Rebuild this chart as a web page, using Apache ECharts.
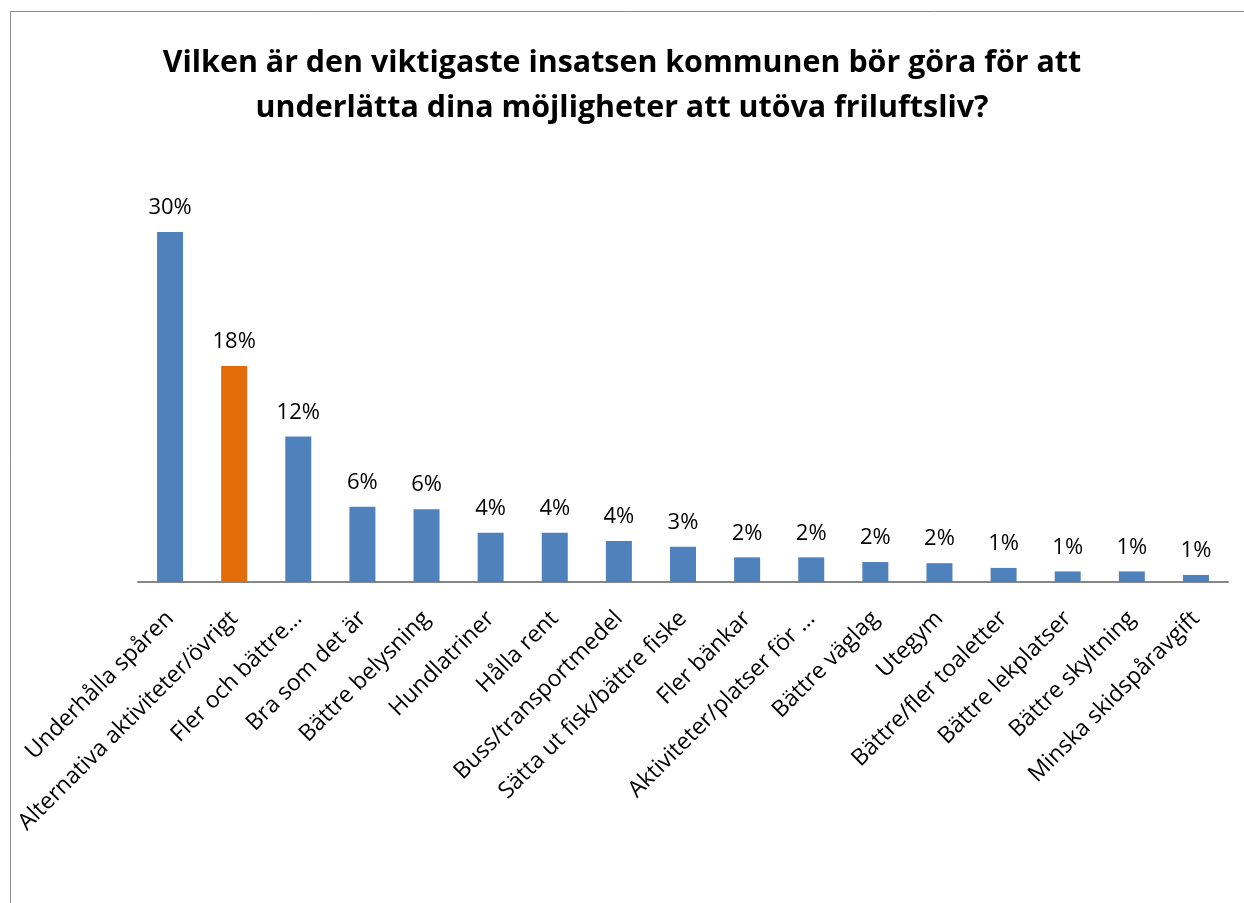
<!DOCTYPE html>
<html>
<head>
<meta charset="utf-8">
<script src="https://cdn.jsdelivr.net/npm/echarts@6/dist/echarts.min.js"></script>
<style>
  html, body { margin: 0; padding: 0; background: #fff; }
  #chart { width: 1244px; height: 903px; }
</style>
</head>
<body>
<div id="chart"></div>
<script>
// kategorier och andelar (%)
const categories = [
  'Underhålla spåren', 'Alternativa aktiviteter/övrigt', 'Fler och bättre…',
  'Bra som det är', 'Bättre belysning', 'Hundlatriner', 'Hålla rent',
  'Buss/transportmedel', 'Sätta ut fisk/bättre fiske', 'Fler bänkar',
  'Aktiviteter/platser för …', 'Bättre väglag', 'Utegym', 'Bättre/fler toaletter',
  'Bättre lekplatser', 'Bättre skyltning', 'Minska skidspåravgift'
]
const values = [29.8, 18.4, 12.4, 6.4, 6.2, 4.2, 4.2, 3.5, 3.0, 2.1, 2.1, 1.7, 1.6, 1.2, 0.9, 0.9, 0.6]
const highlighted = ['Alternativa aktiviteter/övrigt']
const titleLines = [
  'Vilken är den viktigaste insatsen kommunen bör göra för att',
  'underlätta dina möjligheter att utöva friluftsliv?'
]

const chart = echarts.init(document.getElementById('chart'))

const option = {
  backgroundColor: '#fff',
  animation: false,
  title: {
    text: titleLines.join('\n'),
    left: 'center',
    top: 36,
    textStyle: {
      fontFamily: 'Open Sans',
      fontWeight: 'bold',
      fontSize: 30.4,
      lineHeight: 45,
      color: '#000'
    }
  },
  graphic: [{
    type: 'polyline',
    shape: { points: [[10.5, 903], [10.5, 11.5], [1244, 11.5]] },
    style: { stroke: '#8c8c8c', lineWidth: 1, fill: null }
  }],
  grid: { left: 138, right: 16, top: 171, bottom: 321 },
  xAxis: {
    type: 'category',
    data: categories,
    axisLine: { lineStyle: { color: '#868686', width: 2 } },
    axisTick: { show: false },
    axisLabel: {
      interval: 0,
      rotate: 45,
      margin: 33,
      color: '#000',
      fontFamily: 'Open Sans',
      fontSize: 23
    }
  },
  yAxis: {
    type: 'value',
    min: 0,
    max: 35,
    show: false,
    splitLine: { show: false }
  },
  series: [{
    type: 'bar',
    barWidth: 26,
    data: values.map((v, i) => ({
      value: v,
      itemStyle: { color: highlighted.includes(categories[i]) ? '#E36C09' : '#4F81BD' }
    })),
    label: {
      show: true,
      position: 'top',
      distance: 13,
      color: '#000',
      fontFamily: 'Open Sans',
      fontSize: 22,
      formatter: p => Math.round(p.value) + '%'
    }
  }]
}

chart.setOption(option)
</script>
</body>
</html>
